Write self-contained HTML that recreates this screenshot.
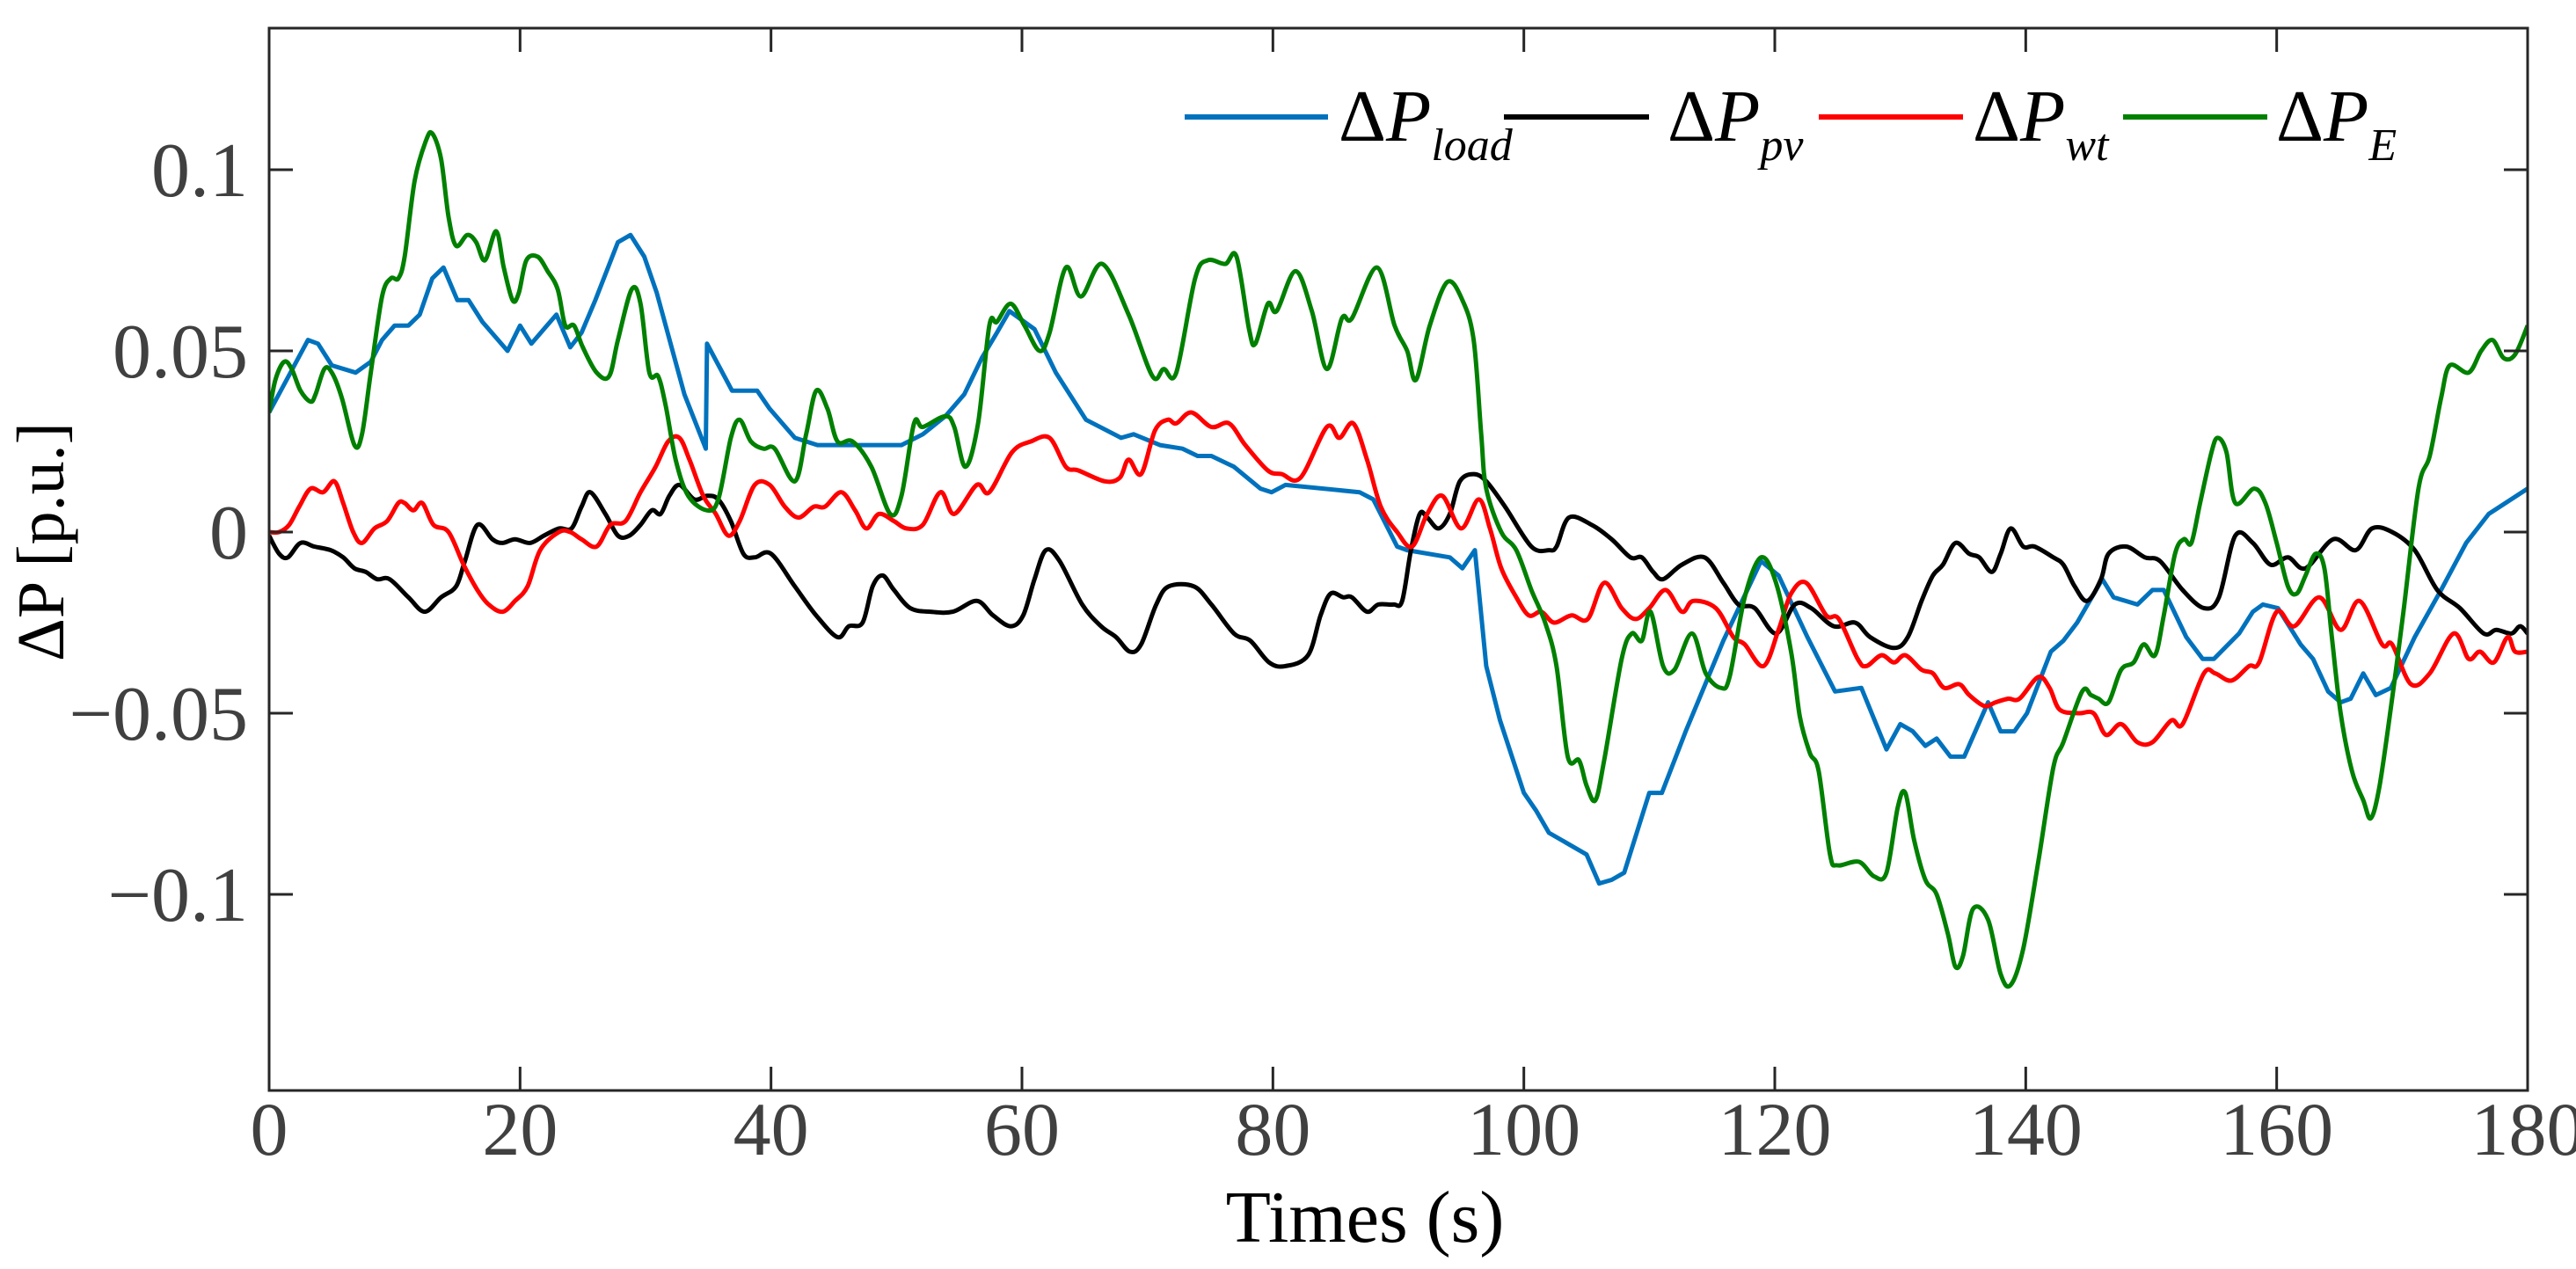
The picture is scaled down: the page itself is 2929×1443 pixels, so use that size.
<!DOCTYPE html>
<html><head><meta charset="utf-8"><style>
html,body{margin:0;padding:0;background:#fff;}
svg{display:block;}
text{font-family:"Liberation Serif","Times New Roman",serif;}
</style></head><body>
<svg id="chart" width="2929" height="1443" viewBox="0 0 2929 1443" xmlns="http://www.w3.org/2000/svg">
<defs><clipPath id="clip"><rect x="306" y="32" width="2568" height="1208"/></clipPath></defs>
<g id="series" clip-path="url(#clip)"></g>
<rect x="306" y="32" width="2568" height="1208" fill="none" stroke="#262626" stroke-width="3"/>
<g id="ticks"></g>
<g id="legend">
 <line x1="1347" y1="133" x2="1510" y2="133" stroke="#0072BD" stroke-width="6"/>
 <text x="1522" y="160" font-size="84" fill="#000">Δ<tspan font-style="italic">P</tspan><tspan font-style="italic" font-size="52" dy="22">load</tspan></text>
 <line x1="1710" y1="133" x2="1875" y2="133" stroke="#000" stroke-width="6"/>
 <text x="1896" y="160" font-size="84" fill="#000">Δ<tspan font-style="italic">P</tspan><tspan font-style="italic" font-size="52" dy="22">pv</tspan></text>
 <line x1="2068" y1="133" x2="2232" y2="133" stroke="#FF0000" stroke-width="6"/>
 <text x="2243" y="160" font-size="84" fill="#000">Δ<tspan font-style="italic">P</tspan><tspan font-style="italic" font-size="52" dy="22">wt</tspan></text>
 <line x1="2414" y1="133" x2="2578" y2="133" stroke="#008000" stroke-width="6"/>
 <text x="2588" y="160" font-size="84" fill="#000">Δ<tspan font-style="italic">P</tspan><tspan font-style="italic" font-size="52" dy="22">E</tspan></text>
</g>
<text x="1552" y="1412" font-size="84" text-anchor="middle" fill="#000">Times (s)</text>
<text transform="translate(72,616) rotate(-90)" font-size="76" text-anchor="middle" fill="#000">ΔP [p.u.]</text>
</svg>
<script>
const xTicks=[0,20,40,60,80,100,120,140,160,180];
const yTicks=[-0.1,-0.05,0,0.05,0.1];
const yTickLabels=["\u22120.1","\u22120.05","0","0.05","0.1"];
const tLoad=[0,3.1,3.9,5,6.9,8.1,9,10,11.1,12,13,13.9,15,15.9,17,18,19,20,20.9,21.9,22.9,24,24.9,26,27.8,28.8,29.9,30.9,32,33.1,34.8,34.9,36.9,38.9,39.9,41.9,43.7,45.7,50.4,52.1,53.9,55.4,56.8,58,59,61,62.7,65.1,67.9,68.9,71,72.8,74,75.1,76.9,79,79.9,81,86.9,88,89.9,90.7,94.1,95.1,96.1,97,98.1,100,101,102,105,106,107,108,110,111,112.9,115.9,118.9,120.3,122.6,124.8,126.9,128.9,130,131,132,132.9,134,135.1,137,138,139.1,140.1,142,143,144.1,146.1,147,148.9,150.1,151,152.8,154.1,155,157,158.1,158.9,160.1,161.9,162.9,164.1,165.1,165.9,166.9,167.9,169.1,171,173.1,175.1,176.9,180];
const vLoad=[0.033,0.053,0.052,0.046,0.044,0.047,0.053,0.057,0.057,0.060,0.070,0.073,0.064,0.064,0.058,0.054,0.050,0.057,0.052,0.056,0.060,0.051,0.055,0.064,0.080,0.082,0.076,0.066,0.052,0.038,0.023,0.052,0.039,0.039,0.034,0.026,0.024,0.024,0.024,0.027,0.032,0.038,0.048,0.055,0.061,0.056,0.044,0.031,0.026,0.027,0.024,0.023,0.021,0.021,0.018,0.012,0.011,0.013,0.011,0.009,-0.004,-0.005,-0.007,-0.010,-0.005,-0.037,-0.052,-0.072,-0.077,-0.083,-0.089,-0.097,-0.096,-0.094,-0.072,-0.072,-0.055,-0.030,-0.008,-0.012,-0.029,-0.044,-0.043,-0.060,-0.053,-0.055,-0.059,-0.057,-0.062,-0.062,-0.047,-0.055,-0.055,-0.050,-0.033,-0.030,-0.025,-0.013,-0.018,-0.020,-0.016,-0.016,-0.029,-0.035,-0.035,-0.028,-0.022,-0.020,-0.021,-0.031,-0.035,-0.044,-0.047,-0.046,-0.039,-0.045,-0.043,-0.029,-0.016,-0.003,0.005,0.012];
const tPv=[0,0.8,1.5,2.5,3.6,4.9,5.9,6.8,7.7,8.6,9.6,11.1,12.4,13.7,14.9,15.6,16.6,17.8,18.6,19.6,20.8,21.9,23.1,24.1,24.9,25.6,26.8,27.8,28.7,29.6,30.5,31.2,31.9,32.7,33.9,34.9,35.8,36.8,37.8,38.7,40,41.9,43.6,45.3,46.2,47.3,48.1,48.9,49.8,51.1,52.7,54.5,56.4,57.7,59.1,60.1,61,61.9,63,64.8,66.3,67.5,68.6,69.5,70.7,71.7,73.7,75.1,76.9,78.2,79.7,81,82.8,83.8,84.6,85.6,86.3,87.5,88.4,89.6,90.3,91,91.7,92.3,93.2,94.1,94.9,96,97,98.5,100.6,102,102.6,103.6,105.4,107,108.5,109.4,110.3,111.1,112.6,114.4,115.9,117.1,118.4,120.1,121.6,122.9,124.7,126.4,127.6,129.5,130.6,131.7,132.6,133.4,134.4,135.5,136.3,137.3,138,138.8,139.8,140.7,142.2,143,143.9,144.9,146,146.6,148,149.5,150.7,152.5,154.2,155.4,156.7,158.1,159.5,160.9,162.3,164.5,166.3,167.6,169.2,171,172.8,174.6,176.5,177.5,178.7,179.4,180];
const vPv=[-0.001,-0.006,-0.007,-0.003,-0.004,-0.005,-0.007,-0.010,-0.011,-0.013,-0.013,-0.018,-0.022,-0.018,-0.015,-0.008,0.002,-0.002,-0.003,-0.002,-0.003,-0.001,0.001,0.001,0.007,0.011,0.005,-0.001,-0.001,0.002,0.006,0.005,0.010,0.013,0.009,0.010,0.009,0.003,-0.006,-0.007,-0.006,-0.015,-0.023,-0.029,-0.026,-0.025,-0.015,-0.012,-0.016,-0.021,-0.022,-0.022,-0.019,-0.023,-0.026,-0.023,-0.013,-0.005,-0.008,-0.020,-0.026,-0.029,-0.033,-0.031,-0.020,-0.015,-0.015,-0.020,-0.028,-0.030,-0.036,-0.037,-0.034,-0.023,-0.017,-0.018,-0.018,-0.022,-0.020,-0.020,-0.019,-0.005,0.005,0.004,0.001,0.005,0.014,0.016,0.014,0.007,-0.004,-0.005,-0.004,0.004,0.002,-0.002,-0.007,-0.007,-0.011,-0.013,-0.009,-0.007,-0.014,-0.020,-0.021,-0.028,-0.020,-0.021,-0.026,-0.025,-0.029,-0.032,-0.029,-0.019,-0.012,-0.009,-0.003,-0.006,-0.007,-0.011,-0.006,0.001,-0.004,-0.004,-0.007,-0.009,-0.015,-0.019,-0.013,-0.006,-0.004,-0.007,-0.008,-0.016,-0.021,-0.018,-0.001,-0.003,-0.009,-0.007,-0.010,-0.002,-0.005,0.001,0.000,-0.005,-0.016,-0.021,-0.028,-0.027,-0.028,-0.026,-0.028];
const tWt=[0,0.8,1.6,2.4,3.3,4.3,5.2,5.9,6.7,7.4,8.4,9.4,10.3,10.8,11.5,12.2,13.1,14.3,15.5,16.6,17.5,18.6,19.6,20.6,21.6,23.1,24,24.9,26.1,27.2,28.4,29.6,30.8,31.8,32.7,33.5,34.6,35.6,36.6,37.5,38.7,39.9,41.1,42.2,43.4,44.3,45.6,46.7,47.6,48.6,49.8,50.8,52.1,53.5,54.6,56.4,57.4,59.2,60.7,62.2,63.5,64.5,66.6,67.8,68.5,69.5,70.6,71.6,72.3,73.5,75.1,76.5,77.8,79.6,80.7,82.2,84.3,85.3,86.4,87.5,88.6,89.9,91.1,92.3,93.5,95,96.4,97.3,98.2,99.4,100.4,101.4,102.4,103.8,105.1,106.4,107.8,108.9,110,111.3,112.6,113.5,115.3,116.7,117.6,119.1,120.3,121.3,122.5,124.1,125.1,126.6,127.3,128.5,129.5,130.4,131.7,132.6,133.5,134.7,135.5,136.7,137.6,138.6,139.5,141,141.9,142.7,144.2,145.4,146.4,147.6,148.9,150.1,151.6,152.5,154.2,155.1,156.4,157.8,158.6,160,161.4,163.4,165.1,166.6,168.4,169.2,170.7,172.2,174.1,175.3,176.2,177.3,178.4,179,180];
const vWt=[0,0,0.002,0.007,0.012,0.011,0.014,0.008,0,-0.003,0.001,0.003,0.008,0.008,0.006,0.008,0.002,0,-0.009,-0.016,-0.020,-0.022,-0.019,-0.015,-0.005,0,0,-0.002,-0.004,0.002,0.003,0.011,0.018,0.025,0.026,0.020,0.010,0.005,-0.001,0.003,0.013,0.013,0.007,0.004,0.007,0.007,0.011,0.006,0.001,0.005,0.003,0.001,0.002,0.011,0.005,0.013,0.011,0.022,0.025,0.026,0.018,0.017,0.014,0.015,0.020,0.016,0.028,0.031,0.030,0.033,0.029,0.030,0.024,0.017,0.016,0.015,0.029,0.026,0.030,0.020,0.007,0,-0.004,0.005,0.010,0.001,0.009,0.001,-0.010,-0.018,-0.023,-0.022,-0.025,-0.023,-0.024,-0.014,-0.021,-0.024,-0.021,-0.016,-0.022,-0.019,-0.021,-0.029,-0.031,-0.037,-0.027,-0.017,-0.014,-0.023,-0.024,-0.035,-0.037,-0.034,-0.036,-0.034,-0.038,-0.039,-0.043,-0.042,-0.045,-0.048,-0.047,-0.046,-0.046,-0.040,-0.043,-0.049,-0.050,-0.050,-0.056,-0.053,-0.058,-0.058,-0.052,-0.053,-0.039,-0.039,-0.041,-0.037,-0.036,-0.022,-0.026,-0.018,-0.027,-0.019,-0.031,-0.031,-0.042,-0.039,-0.028,-0.035,-0.033,-0.036,-0.029,-0.033,-0.033];
const tE=[0,0.5,1.2,1.8,2.5,3.3,3.7,4.4,5,5.8,6.8,7.4,8.1,9,9.7,10.3,10.8,11.6,12.5,13,13.7,14.3,14.9,15.8,16.5,17.2,18.1,18.7,19.4,19.9,20.5,21.4,22.2,23,23.6,24.3,25,26.1,27.1,27.8,28.9,29.6,30.3,31,31.6,32.4,33.4,34.9,35.8,36.8,37.5,38.4,39.4,40.3,41.9,42.8,43.6,44.5,45.3,46.5,48,49.5,50.4,51.4,52.1,53.9,54.6,55.5,56.5,57.4,58,59.1,60.2,61.4,62.2,63.5,64.7,66.4,68.5,70.4,71.3,72.3,73.8,74.8,76.2,77.1,78.1,78.6,79.6,80.3,81.8,83.1,84.3,85.5,86.3,88.3,89.7,90.7,91.4,92.5,93.9,95.1,96,96.6,97,98.2,99.4,100.6,101.7,102.6,103.5,104.4,105,105.7,106.4,107.8,108.6,109.4,110.1,111.1,112,113.4,114.5,115.7,116.4,117.6,118.9,120.1,121.3,122,122.8,123.5,124.4,125,126.7,127.9,128.9,129.8,130.4,131.1,132,132.9,133.8,134.4,135,135.8,137,138,138.8,139.8,141,142.2,143,144.5,145.2,145.8,146.6,147.6,148.6,149.4,150.3,151,151.9,152.6,153.2,153.9,154.8,155.3,156,156.7,158.2,159.1,160,160.9,161.6,162.3,163.1,163.8,164.4,165.1,166,166.9,167.5,168.2,169.2,170.1,171.3,172.2,173.1,173.8,175.3,176.3,177.2,178.1,179,180];
const vE=[0.033,0.042,0.047,0.045,0.039,0.036,0.038,0.045,0.044,0.037,0.024,0.027,0.044,0.065,0.070,0.070,0.076,0.097,0.108,0.110,0.103,0.087,0.079,0.082,0.080,0.075,0.083,0.073,0.064,0.066,0.075,0.076,0.072,0.067,0.057,0.057,0.051,0.044,0.043,0.053,0.067,0.063,0.044,0.043,0.035,0.020,0.010,0.006,0.009,0.026,0.031,0.025,0.023,0.023,0.014,0.027,0.039,0.034,0.025,0.025,0.018,0.005,0.010,0.030,0.029,0.032,0.029,0.018,0.030,0.057,0.058,0.063,0.057,0.050,0.055,0.073,0.065,0.074,0.060,0.043,0.045,0.044,0.070,0.075,0.074,0.076,0.056,0.052,0.063,0.061,0.072,0.061,0.045,0.059,0.059,0.073,0.057,0.050,0.042,0.057,0.069,0.064,0.053,0.027,0.012,0.000,-0.005,-0.016,-0.025,-0.037,-0.062,-0.063,-0.070,-0.074,-0.063,-0.035,-0.028,-0.030,-0.022,-0.037,-0.038,-0.028,-0.039,-0.043,-0.040,-0.018,-0.007,-0.014,-0.033,-0.051,-0.061,-0.066,-0.089,-0.092,-0.091,-0.095,-0.094,-0.076,-0.072,-0.085,-0.096,-0.100,-0.111,-0.120,-0.117,-0.104,-0.107,-0.122,-0.125,-0.115,-0.091,-0.065,-0.058,-0.044,-0.045,-0.046,-0.047,-0.038,-0.036,-0.031,-0.034,-0.023,-0.006,-0.002,-0.003,0.008,0.022,0.026,0.022,0.008,0.012,0.008,-0.003,-0.015,-0.017,-0.012,-0.006,-0.010,-0.029,-0.050,-0.066,-0.074,-0.079,-0.070,-0.046,-0.022,0.012,0.021,0.037,0.046,0.044,0.050,0.053,0.048,0.049,0.057];

const X0=306,X1=2874,Y0=605,PXV=4120;
function xs(t){return X0+(t/180)*(X1-X0);}
function ys(v){return Y0-v*PXV;}
const NS="http://www.w3.org/2000/svg";
function linePath(ts,vs){let d="";for(let i=0;i<ts.length;i++)d+=(i?"L":"M")+xs(ts[i]).toFixed(1)+","+ys(vs[i]).toFixed(1);return d;}
function smoothPath(ts,vs){const p=ts.map((t,i)=>[xs(t),ys(vs[i])]);let d="M"+p[0][0].toFixed(1)+","+p[0][1].toFixed(1);
 for(let i=0;i<p.length-1;i++){const a=p[Math.max(0,i-1)],b=p[i],c=p[i+1],e=p[Math.min(p.length-1,i+2)];
  const c1=[b[0]+(c[0]-a[0])/6,b[1]+(c[1]-a[1])/6],c2=[c[0]-(e[0]-b[0])/6,c[1]-(e[1]-b[1])/6];
  d+="C"+c1[0].toFixed(1)+","+c1[1].toFixed(1)+" "+c2[0].toFixed(1)+","+c2[1].toFixed(1)+" "+c[0].toFixed(1)+","+c[1].toFixed(1);}
 return d;}
const g=document.getElementById("series");
function add(d,color,name){const p=document.createElementNS(NS,"path");p.setAttribute("d",d);p.setAttribute("fill","none");p.setAttribute("stroke",color);p.setAttribute("stroke-width","5");p.setAttribute("stroke-linejoin","round");


g.appendChild(p);}
add(linePath(tLoad,vLoad),"#0072BD","series-load");
add(smoothPath(tPv,vPv),"#000000","series-pv");
add(smoothPath(tWt,vWt),"#FF0000","series-wt");
add(smoothPath(tE,vE),"#008000","series-e");

const tk=document.getElementById("ticks");
function mk(tag,attrs){const e=document.createElementNS(NS,tag);for(const k in attrs)e.setAttribute(k,attrs[k]);tk.appendChild(e);return e;}
xTicks.forEach(t=>{const x=xs(t);
 const a=mk("line",{x1:x,y1:1240,x2:x,y2:1213,stroke:"#262626","stroke-width":3});
 
 
 const b=mk("line",{x1:x,y1:32,x2:x,y2:59,stroke:"#262626","stroke-width":3});
 
 
 const l=mk("text",{x:x,y:1313,"font-size":86,"text-anchor":"middle",fill:"#404040"});l.textContent=String(t);
 
 
});
yTicks.forEach((v,i)=>{const y=ys(v);
 const a=mk("line",{x1:306,y1:y,x2:333,y2:y,stroke:"#262626","stroke-width":3});
 
 
 const b=mk("line",{x1:2874,y1:y,x2:2847,y2:y,stroke:"#262626","stroke-width":3});
 
 
 const l=mk("text",{x:282,y:y+30,"font-size":88,"text-anchor":"end",fill:"#404040"});l.textContent=yTickLabels[i];
 
 
});
</script>
</body></html>
